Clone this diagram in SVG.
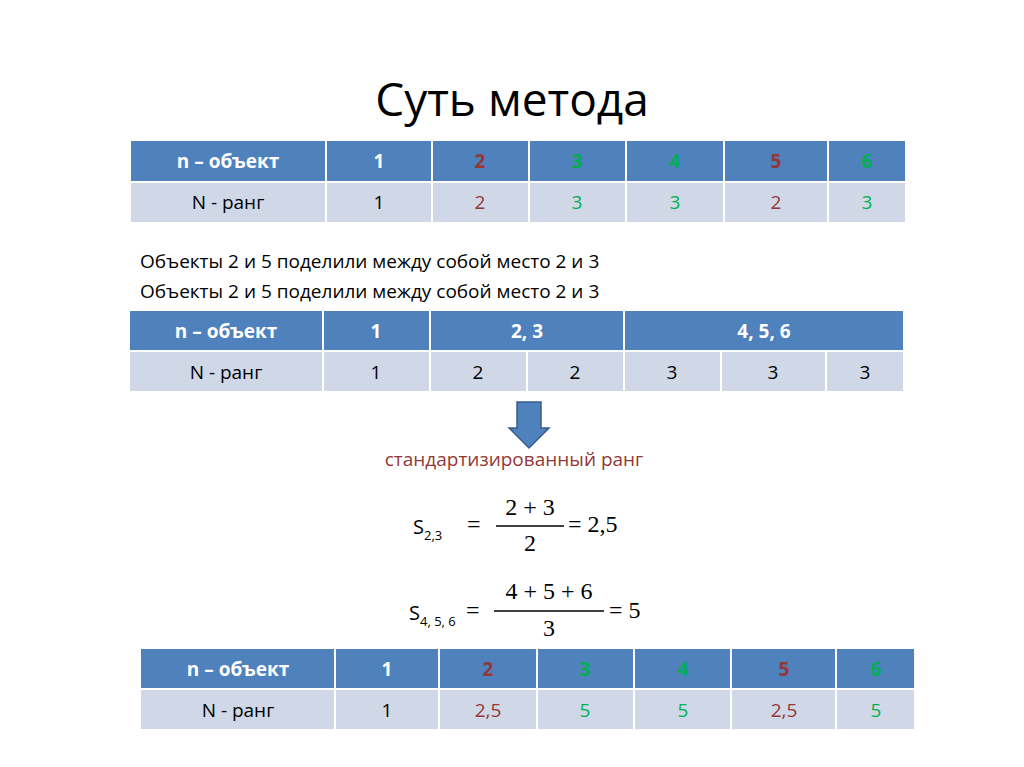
<svg xmlns="http://www.w3.org/2000/svg" width="1024" height="767" viewBox="0 0 1024 767">
<style>
.h{fill:#4F81BD}.b{fill:#D0D8E8}
text{font-family:"Open Sans","Liberation Sans",sans-serif}
.ht{font-size:19px;font-weight:bold;fill:#fff;text-anchor:middle}
.bt{font-size:19px;fill:#000;text-anchor:middle}
.r{fill:#953735}.g{fill:#00B050}
.m{font-family:"Liberation Serif",serif;font-size:24px}
</style>
<rect width="1024" height="767" fill="#fff"/>
<text x="512" y="116" font-size="46" text-anchor="middle" style="font-family:'Open Sans','Liberation Sans',sans-serif">Суть метода</text>
<g id="table1">
<rect class="h" x="131" y="141" width="194" height="40"/><rect class="h" x="327" y="141" width="104" height="40"/><rect class="h" x="433" y="141" width="95" height="40"/><rect class="h" x="530" y="141" width="95" height="40"/><rect class="h" x="627" y="141" width="96" height="40"/><rect class="h" x="725" y="141" width="102" height="40"/><rect class="h" x="829" y="141" width="76" height="40"/>
<rect class="b" x="131" y="183" width="194" height="39"/><rect class="b" x="327" y="183" width="104" height="39"/><rect class="b" x="433" y="183" width="95" height="39"/><rect class="b" x="530" y="183" width="95" height="39"/><rect class="b" x="627" y="183" width="96" height="39"/><rect class="b" x="725" y="183" width="102" height="39"/><rect class="b" x="829" y="183" width="76" height="39"/>
<text class="ht" x="228" y="168">n – объект</text><text class="ht" x="379" y="168">1</text><text class="ht r" x="480" y="168">2</text><text class="ht g" x="577" y="168">3</text><text class="ht g" x="675" y="168">4</text><text class="ht r" x="776" y="168">5</text><text class="ht g" x="867" y="168">6</text>
<text class="bt" x="228" y="209">N - ранг</text><text class="bt" x="379" y="209">1</text><text class="bt r" x="480" y="209">2</text><text class="bt g" x="577" y="209">3</text><text class="bt g" x="675" y="209">3</text><text class="bt r" x="776" y="209">2</text><text class="bt g" x="867" y="209">3</text>
</g>
<text x="140" y="268" font-size="19">Объекты 2 и 5 поделили между собой место 2 и 3</text>
<text x="140" y="298" font-size="19">Объекты 2 и 5 поделили между собой место 2 и 3</text>
<g id="table2">
<rect class="h" x="130" y="311" width="192" height="39"/><rect class="h" x="324" y="311" width="105" height="39"/><rect class="h" x="431" y="311" width="192" height="39"/><rect class="h" x="625" y="311" width="278" height="39"/>
<rect class="b" x="130" y="352" width="192" height="39"/><rect class="b" x="324" y="352" width="105" height="39"/><rect class="b" x="431" y="352" width="95" height="39"/><rect class="b" x="528" y="352" width="95" height="39"/><rect class="b" x="625" y="352" width="95" height="39"/><rect class="b" x="722" y="352" width="103" height="39"/><rect class="b" x="827" y="352" width="76" height="39"/>
<text class="ht" x="226" y="338">n – объект</text><text class="ht" x="376" y="338">1</text><text class="ht" x="527" y="338">2, 3</text><text class="ht" x="764" y="338">4, 5, 6</text>
<text class="bt" x="226" y="379">N - ранг</text><text class="bt" x="376" y="379">1</text><text class="bt" x="478" y="379">2</text><text class="bt" x="575" y="379">2</text><text class="bt" x="672" y="379">3</text><text class="bt" x="773" y="379">3</text><text class="bt" x="865" y="379">3</text>
</g>
<g id="arrow"><path d="M517,402 H541 V428 H549 L529,448 L509,428 H517 Z" fill="#4F81BD" stroke="#385D8A" stroke-width="1.5"/></g>
<text x="514" y="466" font-size="19" text-anchor="middle" class="r">стандартизированный ранг</text>
<g id="f1">
<text class="m" x="413" y="534" font-size="22" style="font-family:'Open Sans','Liberation Sans',sans-serif;font-size:20px">S<tspan font-size="13" dy="6">2,3</tspan></text>
<text class="m" x="467" y="532">=</text>
<text class="m" x="530" y="515" text-anchor="middle">2 + 3</text>
<line x1="496" y1="526" x2="564" y2="526" stroke="#000" stroke-width="1.5"/>
<text class="m" x="530" y="551" text-anchor="middle">2</text>
<text class="m" x="568" y="532">= 2,5</text>
</g>
<g id="f2">
<text x="409" y="620" style="font-family:'Open Sans','Liberation Sans',sans-serif;font-size:20px">S<tspan font-size="13" dy="6">4, 5, 6</tspan></text>
<text class="m" x="466" y="618">=</text>
<text class="m" x="549" y="599" text-anchor="middle">4 + 5 + 6</text>
<line x1="494" y1="611" x2="604" y2="611" stroke="#000" stroke-width="1.5"/>
<text class="m" x="549" y="636" text-anchor="middle">3</text>
<text class="m" x="609" y="618">= 5</text>
</g>
<g id="table3">
<rect class="h" x="141" y="649" width="193" height="39"/><rect class="h" x="336" y="649" width="102" height="39"/><rect class="h" x="440" y="649" width="96" height="39"/><rect class="h" x="538" y="649" width="95" height="39"/><rect class="h" x="635" y="649" width="95" height="39"/><rect class="h" x="732" y="649" width="103" height="39"/><rect class="h" x="837" y="649" width="77" height="39"/>
<rect class="b" x="141" y="690" width="193" height="39"/><rect class="b" x="336" y="690" width="102" height="39"/><rect class="b" x="440" y="690" width="96" height="39"/><rect class="b" x="538" y="690" width="95" height="39"/><rect class="b" x="635" y="690" width="95" height="39"/><rect class="b" x="732" y="690" width="103" height="39"/><rect class="b" x="837" y="690" width="77" height="39"/>
<text class="ht" x="238" y="676">n – объект</text><text class="ht" x="387" y="676">1</text><text class="ht r" x="488" y="676">2</text><text class="ht g" x="585" y="676">3</text><text class="ht g" x="683" y="676">4</text><text class="ht r" x="784" y="676">5</text><text class="ht g" x="876" y="676">6</text>
<text class="bt" x="238" y="717">N - ранг</text><text class="bt" x="387" y="717">1</text><text class="bt r" x="488" y="717">2,5</text><text class="bt g" x="585" y="717">5</text><text class="bt g" x="683" y="717">5</text><text class="bt r" x="784" y="717">2,5</text><text class="bt g" x="876" y="717">5</text>
</g>
</svg>
